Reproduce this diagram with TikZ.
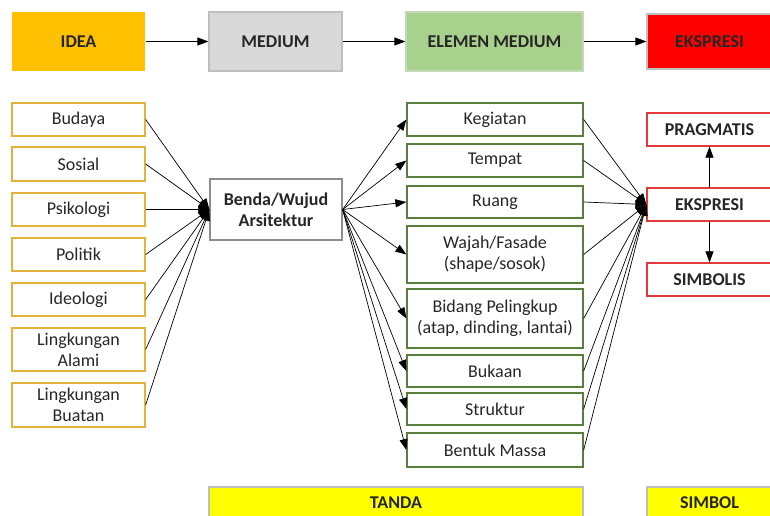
\documentclass[tikz,border=0pt]{standalone}
\usepackage{fontspec}
\setmainfont{Carlito}
\usetikzlibrary{arrows.meta}
\definecolor{ideaC}{HTML}{FFC000}
\definecolor{medC}{HTML}{D9D9D9}
\definecolor{medB}{HTML}{BFBFBF}
\definecolor{elemC}{HTML}{A9D18E}
\definecolor{elemB}{HTML}{C5D9B8}
\definecolor{eksC}{HTML}{FF0000}
\definecolor{goldB}{HTML}{E2B43C}
\definecolor{greenB}{HTML}{5A7F3C}
\definecolor{redB}{HTML}{E03A3A}
\definecolor{grayB}{HTML}{8C8C8C}
\definecolor{yelC}{HTML}{FFFF00}
\definecolor{txt}{HTML}{262626}
\tikzset{
  x=1pt, y=-1pt,
  every node/.style={font=\fontsize{18}{21}\selectfont, text=txt, align=center, inner sep=0pt},
  hdr/.style={font=\fontsize{18}{21}\selectfont\bfseries, text=black!85, line width=1.2pt},
  leftbox/.style={draw=goldB, line width=1.3pt, minimum width=133pt},
  elbox/.style={draw=greenB, line width=1.3pt, minimum width=176pt},
  rbox/.style={draw=redB, line width=1.3pt, minimum width=125pt, minimum height=33pt, font=\fontsize{18}{21}\selectfont\bfseries},
  conn/.style={draw=black, line width=0.7pt, -{Triangle[length=11pt,width=8pt]}},
}
\begin{document}
\begin{tikzpicture}
\useasboundingbox (0,0) rectangle (770,516);
\clip (0,0) rectangle (770,516);
% top row
\node[hdr, fill=ideaC, minimum width=133pt, minimum height=59pt] (idea) at (78.5,41.5) {IDEA};
\node[hdr, fill=medC, draw=medB, minimum width=133pt, minimum height=59pt] (medium) at (275.5,41.5) {MEDIUM};
\node[hdr, fill=elemC, draw=elemB, minimum width=177pt, minimum height=59pt] (elem) at (494.5,41.5) {ELEMEN MEDIUM};
\node[hdr, fill=eksC, draw=medB, minimum width=125pt, minimum height=55pt] (eks) at (709.5,41.5) {EKSPRESI};
\draw[conn] (idea) -- (medium);
\draw[conn] (medium) -- (elem);
\draw[conn] (elem) -- (eks);
% left column
\node[leftbox, minimum height=33pt] (budaya) at (78.5,119.5) {Budaya};
\node[leftbox, minimum height=34pt] (sosial) at (78.5,164) {Sosial};
\node[leftbox, minimum height=33pt] (psiko) at (78.5,209.5) {Psikologi};
\node[leftbox, minimum height=33pt] (politik) at (78.5,254.5) {Politik};
\node[leftbox, minimum height=33pt] (ideo) at (78.5,299.5) {Ideologi};
\node[leftbox, minimum height=43pt] (alami) at (78.5,349.5) {Lingkungan\\Alami};
\node[leftbox, minimum height=44pt] (buatan) at (78.5,405) {Lingkungan\\Buatan};
% benda
\node[draw=grayB, line width=1.3pt, minimum width=132pt, minimum height=61pt, font=\fontsize{18}{21}\selectfont\bfseries] (benda) at (276,209.5) {Benda/Wujud\\Arsitektur};
\foreach \n in {budaya,sosial,psiko,politik,ideo,alami,buatan}
  \draw[conn] (\n.east) -- (benda.west);
% elements
\node[elbox, minimum height=33pt] (keg) at (495,119.5) {Kegiatan};
\node[elbox, minimum height=33pt] (tempat) at (495,160.5) {Tempat};
\node[elbox, minimum height=32pt] (ruang) at (495,202) {Ruang};
\node[elbox, minimum height=57pt] (wajah) at (495,254.5) {Wajah/Fasade\\(shape/sosok)};
\node[elbox, minimum height=59pt] (bidang) at (495,318.5) {Bidang Pelingkup\\(atap, dinding, lantai)};
\node[elbox, minimum height=32pt] (bukaan) at (495,371) {Bukaan};
\node[elbox, minimum height=32pt] (struktur) at (495,409) {Struktur};
\node[elbox, minimum height=34pt] (bentuk) at (495,450) {Bentuk Massa};
% right
\node[rbox] (prag) at (709.5,129.5) {PRAGMATIS};
\node[rbox] (eks2) at (709.5,204.5) {EKSPRESI};
\node[rbox] (simb) at (709.5,279.5) {SIMBOLIS};
\foreach \n in {keg,tempat,ruang,wajah,bidang,bukaan,struktur,bentuk} {
  \draw[conn] (benda.east) -- (\n.west);
  \draw[conn] (\n.east) -- (eks2.west);
}
\draw[conn] (eks2) -- (prag);
\draw[conn] (eks2) -- (simb);
% bottom
\node[hdr, fill=yelC, draw=medB, minimum width=374pt, minimum height=31pt] (tanda) at (396,502.5) {TANDA};
\node[hdr, fill=yelC, draw=medB, minimum width=125pt, minimum height=31pt] (simbol) at (709.5,502.5) {SIMBOL};
\end{tikzpicture}
\end{document}
